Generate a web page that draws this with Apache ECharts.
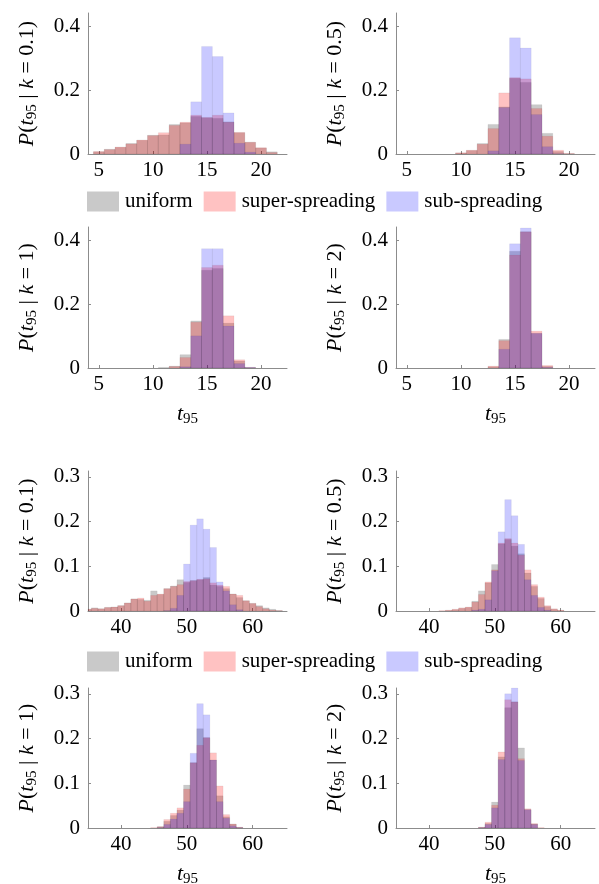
<!DOCTYPE html>
<html>
<head>
<meta charset="utf-8">
<script src="https://cdn.jsdelivr.net/npm/echarts@6/dist/echarts.min.js"></script>
<style>
  html, body { margin: 0; padding: 0; background: #fff; }
  #chart { width: 599px; height: 884px; }
</style>
</head>
<body>
<div id="chart"></div>
<script>
// Histogram bins (bin centres, width 1)
const topBins = [5, 6, 7, 8, 9, 10, 11, 12, 13, 14, 15, 16, 17, 18, 19, 20, 21];
const bottomBins = [35, 36, 37, 38, 39, 40, 41, 42, 43, 44, 45, 46, 47, 48, 49,
                    50, 51, 52, 53, 54, 55, 56, 57, 58, 59, 60, 61, 62, 63, 64];

const seriesNames = ['uniform', 'super-spreading', 'sub-spreading'];
const kLabels = ['0.1', '0.5', '1', '2'];

const topTicksX = [5, 10, 15, 20];
const topTicksY = [0, 0.2, 0.4];
const bottomTicksX = [40, 50, 60];
const bottomTicksY = [0, 0.1, 0.2, 0.3];

// Upper group, P(t95 | k)
const topK01Uniform = [0.007, 0.015, 0.021, 0.033, 0.043, 0.059, 0.060, 0.093, 0.098, 0.118, 0.114, 0.112, 0.101, 0.067, 0.037, 0.019, 0.007];
const topK01Super   = [0.008, 0.014, 0.022, 0.032, 0.044, 0.058, 0.067, 0.090, 0.100, 0.122, 0.115, 0.122, 0.100, 0.068, 0.037, 0.020, 0.005];
const topK01Sub     = [0, 0, 0, 0, 0, 0, 0, 0, 0.031, 0.164, 0.338, 0.306, 0.129, 0.034, 0.006, 0, 0];

const topK05Uniform = [0, 0, 0, 0, 0, 0.003, 0.011, 0.033, 0.093, 0.148, 0.238, 0.225, 0.155, 0.065, 0.008, 0.001, 0];
const topK05Super   = [0, 0, 0, 0, 0, 0.004, 0.012, 0.031, 0.080, 0.192, 0.240, 0.236, 0.143, 0.056, 0.012, 0.002, 0];
const topK05Sub     = [0, 0, 0, 0, 0, 0, 0, 0, 0.010, 0.146, 0.365, 0.333, 0.124, 0.023, 0.001, 0, 0];

const topK1Uniform  = [0, 0, 0, 0, 0, 0, 0.002, 0.006, 0.042, 0.148, 0.307, 0.313, 0.141, 0.022, 0.001, 0, 0];
const topK1Super    = [0, 0, 0, 0, 0, 0, 0, 0.005, 0.033, 0.144, 0.316, 0.323, 0.164, 0.026, 0.002, 0, 0];
const topK1Sub      = [0, 0, 0, 0, 0, 0, 0, 0, 0.004, 0.101, 0.375, 0.375, 0.132, 0.014, 0.002, 0, 0];

const topK2Uniform  = [0, 0, 0, 0, 0, 0, 0, 0, 0.004, 0.090, 0.367, 0.428, 0.109, 0.005, 0, 0, 0];
const topK2Super    = [0, 0, 0, 0, 0, 0, 0, 0, 0.006, 0.086, 0.355, 0.428, 0.116, 0.008, 0, 0, 0];
const topK2Sub      = [0, 0, 0, 0, 0, 0, 0, 0, 0, 0.059, 0.390, 0.440, 0.109, 0.002, 0, 0, 0];

// Lower group, P(t95 | k)
const bottomK01Uniform = [0.004, 0.007, 0.005, 0.008, 0.009, 0.012, 0.018, 0.027, 0.026, 0.024, 0.045, 0.037, 0.050, 0.056, 0.070,
                          0.064, 0.068, 0.070, 0.075, 0.058, 0.055, 0.050, 0.038, 0.030, 0.023, 0.017, 0.012, 0.007, 0.004, 0.001];
const bottomK01Super   = [0.004, 0.006, 0.005, 0.008, 0.009, 0.012, 0.018, 0.027, 0.029, 0.022, 0.035, 0.038, 0.050, 0.055, 0.059,
                          0.066, 0.068, 0.071, 0.072, 0.063, 0.058, 0.055, 0.038, 0.035, 0.023, 0.017, 0.010, 0.005, 0.002, 0.001];
const bottomK01Sub     = [0, 0, 0, 0, 0, 0, 0, 0, 0, 0, 0, 0, 0.001, 0.006, 0.035,
                          0.105, 0.192, 0.206, 0.183, 0.142, 0.065, 0.045, 0.014, 0.003, 0, 0, 0, 0, 0, 0];

const bottomK05Uniform = [0, 0, 0, 0, 0, 0, 0, 0, 0.001, 0.003, 0.006, 0.008, 0.022, 0.045, 0.063,
                          0.104, 0.150, 0.160, 0.145, 0.128, 0.085, 0.055, 0.028, 0.010, 0.004, 0.001, 0, 0, 0, 0];
const bottomK05Super   = [0, 0, 0, 0, 0, 0, 0, 0.001, 0.002, 0.004, 0.007, 0.009, 0.020, 0.037, 0.065,
                          0.092, 0.152, 0.162, 0.152, 0.125, 0.092, 0.059, 0.031, 0.012, 0.005, 0.002, 0, 0, 0, 0];
const bottomK05Sub     = [0, 0, 0, 0, 0, 0, 0, 0, 0, 0, 0, 0, 0.002, 0.004, 0.025,
                          0.090, 0.177, 0.249, 0.213, 0.149, 0.070, 0.035, 0.008, 0.002, 0, 0, 0, 0, 0, 0];

const bottomK1Uniform  = [0, 0, 0, 0, 0, 0, 0, 0, 0, 0, 0, 0.003, 0.015, 0.028, 0.040,
                          0.096, 0.146, 0.222, 0.202, 0.152, 0.072, 0.025, 0.009, 0.001, 0, 0, 0, 0, 0, 0];
const bottomK1Super    = [0, 0, 0, 0, 0, 0, 0, 0, 0, 0, 0.001, 0.003, 0.019, 0.033, 0.045,
                          0.087, 0.146, 0.185, 0.202, 0.168, 0.094, 0.030, 0.009, 0.002, 0, 0, 0, 0, 0, 0];
const bottomK1Sub      = [0, 0, 0, 0, 0, 0, 0, 0, 0, 0, 0, 0.001, 0.008, 0.020, 0.033,
                          0.059, 0.167, 0.278, 0.253, 0.152, 0.059, 0.022, 0.005, 0.001, 0, 0, 0, 0, 0, 0];

const bottomK2Uniform  = [0, 0, 0, 0, 0, 0, 0, 0, 0, 0, 0, 0, 0, 0.001, 0.010,
                          0.058, 0.159, 0.269, 0.282, 0.179, 0.041, 0.009, 0, 0, 0, 0, 0, 0, 0, 0];
const bottomK2Super    = [0, 0, 0, 0, 0, 0, 0, 0, 0, 0, 0, 0, 0, 0.002, 0.013,
                          0.051, 0.170, 0.287, 0.282, 0.155, 0.043, 0.010, 0.001, 0, 0, 0, 0, 0, 0, 0];
const bottomK2Sub      = [0, 0, 0, 0, 0, 0, 0, 0, 0, 0, 0, 0, 0, 0.001, 0.008,
                          0.045, 0.153, 0.300, 0.314, 0.151, 0.041, 0.008, 0, 0, 0, 0, 0, 0, 0, 0];

// ---------- styling ----------
const SERIF = 'Liberation Serif';
const FS = 21;
const AXIS_GREY = '#8c8c8c';
const fills = ['rgba(0,0,0,0.21)', 'rgba(255,0,0,0.24)', 'rgba(0,0,255,0.21)'];

const nameRich = {
  i: { fontFamily: SERIF, fontStyle: 'italic', fontSize: 22, color: '#000', lineHeight: 26 },
  n: { fontFamily: SERIF, fontSize: 22, color: '#000', lineHeight: 26 },
  s: { fontFamily: SERIF, fontSize: 15, color: '#000', lineHeight: 15, verticalAlign: 'bottom' }
};

const panels = [
  { rect: [88, 13, 199, 141],  group: 'top',    k: 0, data: [topK01Uniform, topK01Super, topK01Sub], xName: false },
  { rect: [396, 13, 199, 141], group: 'top',    k: 1, data: [topK05Uniform, topK05Super, topK05Sub], xName: false },
  { rect: [88, 227, 199, 141], group: 'top',    k: 2, data: [topK1Uniform, topK1Super, topK1Sub], xName: true },
  { rect: [396, 227, 199, 141],group: 'top',    k: 3, data: [topK2Uniform, topK2Super, topK2Sub], xName: true },
  { rect: [88, 471, 199, 140], group: 'bottom', k: 0, data: [bottomK01Uniform, bottomK01Super, bottomK01Sub], xName: false },
  { rect: [396, 471, 199, 140],group: 'bottom', k: 1, data: [bottomK05Uniform, bottomK05Super, bottomK05Sub], xName: false },
  { rect: [88, 688, 199, 140], group: 'bottom', k: 2, data: [bottomK1Uniform, bottomK1Super, bottomK1Sub], xName: true },
  { rect: [396, 688, 199, 140],group: 'bottom', k: 3, data: [bottomK2Uniform, bottomK2Super, bottomK2Sub], xName: true }
];

const groupAxes = {
  top:    { bins: topBins,    xMin: 4,  xMax: 22.4, yMax: 0.443, ticksX: topTicksX,    ticksY: topTicksY },
  bottom: { bins: bottomBins, xMin: 35, xMax: 65.2, yMax: 0.313, ticksX: bottomTicksX, ticksY: bottomTicksY }
};

function histRenderItem(params, api) {
  const x = api.value(0);
  const y = api.value(1);
  if (!(y > 0)) return null;
  const a = api.coord([x - 0.5, y]);
  const b = api.coord([x + 0.5, 0]);
  const cs = params.coordSys;
  const shape = echarts.graphic.clipRectByRect(
    { x: a[0], y: a[1], width: b[0] - a[0], height: b[1] - a[1] },
    { x: cs.x, y: cs.y, width: cs.width, height: cs.height }
  );
  if (!shape) return null;
  return {
    type: 'rect',
    shape: shape,
    style: api.style({ stroke: 'rgba(0,0,0,0.08)', lineWidth: 0.6 })
  };
}

const grid = [], xAxis = [], yAxis = [], series = [];

panels.forEach((p, idx) => {
  const g = groupAxes[p.group];
  grid.push({ left: p.rect[0], top: p.rect[1], width: p.rect[2], height: p.rect[3], outerBoundsMode: 'none', containLabel: false });
  xAxis.push({
    type: 'value', gridIndex: idx, min: g.xMin, max: g.xMax,
    splitLine: { show: false },
    axisLine: { show: true, onZero: false, lineStyle: { color: AXIS_GREY, width: 1 } },
    axisTick: { show: true, inside: true, length: 3, lineStyle: { color: AXIS_GREY }, customValues: g.ticksX },
    axisLabel: { customValues: g.ticksX, color: '#000', fontFamily: SERIF, fontSize: FS, margin: 6 },
    name: p.xName ? '{i|t}{s|95}' : '',
    nameLocation: 'middle', nameGap: 33,
    nameTextStyle: { rich: nameRich }
  });
  yAxis.push({
    type: 'value', gridIndex: idx, min: 0, max: g.yMax,
    splitLine: { show: false },
    axisLine: { show: true, lineStyle: { color: AXIS_GREY, width: 1 } },
    axisTick: { show: true, inside: true, length: 3, lineStyle: { color: AXIS_GREY }, customValues: g.ticksY },
    axisLabel: {
      customValues: g.ticksY, color: '#000', fontFamily: SERIF, fontSize: FS, margin: 8,
      formatter: v => (v === 0 ? '0' : v.toFixed(1))
    },
    name: '{i|P}{n|(}{i|t}{s|95}{n| | }{i|k}{n| = ' + kLabels[p.k] + ')}',
    nameLocation: 'middle', nameGap: 48, nameRotate: 90,
    nameTextStyle: { rich: nameRich }
  });
  p.data.forEach((vals, si) => {
    series.push({
      type: 'custom',
      name: seriesNames[si],
      xAxisIndex: idx, yAxisIndex: idx,
      renderItem: histRenderItem,
      itemStyle: { color: fills[si] },
      encode: { x: 0, y: 1 },
      data: g.bins.map((b, i) => [b, vals[i]]),
      silent: true,
      animation: false
    });
  });
});

const legendBase = {
  orient: 'horizontal', left: 87, padding: 0,
  itemWidth: 32, itemHeight: 20, itemGap: 11, icon: 'rect',
  selectedMode: false,
  textStyle: { color: '#000', fontFamily: SERIF, fontSize: FS, padding: [0, 0, 0, 1] },
  data: seriesNames
};

const option = {
  backgroundColor: '#fff',
  animation: false,
  textStyle: { fontFamily: SERIF },
  legend: [
    Object.assign({}, legendBase, { top: 191 }),
    Object.assign({}, legendBase, { top: 651 })
  ],
  grid: grid,
  xAxis: xAxis,
  yAxis: yAxis,
  series: series
};

const chart = echarts.init(document.getElementById('chart'), null, { renderer: 'canvas' });
chart.setOption(option);
</script>
</body>
</html>
